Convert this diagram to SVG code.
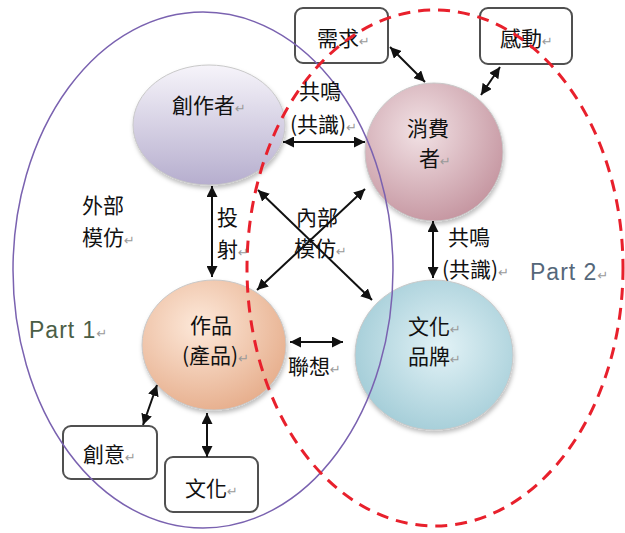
<svg xmlns="http://www.w3.org/2000/svg" width="625" height="533" viewBox="0 0 625 533">
<style>
text{font-family:"Noto Sans CJK TC","Noto Sans CJK SC",sans-serif;font-size:21px;fill:#111}
.rt{font-family:"DejaVu Sans",sans-serif;font-size:13px;fill:#9a9a9a}
.part{font-family:"Liberation Sans",sans-serif;font-size:23px;letter-spacing:1px}
.box{fill:#fff;stroke:#505050;stroke-width:2}
.con{stroke:#111;stroke-width:2;fill:none;marker-start:url(#ah);marker-end:url(#ah)}
.node{stroke:#c8c8c8;stroke-width:1;filter:url(#sh)}
</style>
<defs>
<marker id="ah" viewBox="0 0 10 10" refX="10" refY="5" markerWidth="11" markerHeight="11" markerUnits="userSpaceOnUse" orient="auto-start-reverse"><path d="M0,0 L10,5 L0,10 z" fill="#111"/></marker>
<linearGradient id="gA" x1="0" y1="0" x2="0" y2="1"><stop offset="0" stop-color="#f6f4fa"/><stop offset="1" stop-color="#b6aece"/></linearGradient>
<radialGradient id="gB" cx="0.4" cy="0.35" r="0.7"><stop offset="0" stop-color="#f2e2e5"/><stop offset="1" stop-color="#c4949f"/></radialGradient>
<radialGradient id="gC" cx="0.4" cy="0.35" r="0.7"><stop offset="0" stop-color="#fde9da"/><stop offset="1" stop-color="#e6ad8b"/></radialGradient>
<radialGradient id="gD" cx="0.55" cy="0.45" r="0.7"><stop offset="0" stop-color="#e2f2f6"/><stop offset="1" stop-color="#98c6d2"/></radialGradient>
<filter id="sh" x="-10%" y="-10%" width="125%" height="125%"><feDropShadow dx="1" dy="3" stdDeviation="2" flood-color="#000" flood-opacity="0.25"/></filter>
</defs>
<rect width="625" height="533" fill="#fff"/>

<g id="node-creator"><ellipse class="node" cx="209" cy="125" rx="76" ry="60" fill="url(#gA)"/><text x="172" y="113">創作者<tspan class="rt">↵</tspan></text></g>
<g id="node-consumer"><circle class="node" cx="434" cy="152" r="69" fill="url(#gB)"/><text x="407" y="136">消費</text><text x="419" y="166">者<tspan class="rt">↵</tspan></text></g>
<g id="node-work"><ellipse class="node" cx="214" cy="345" rx="72" ry="65" fill="url(#gC)"/><text x="190" y="333">作品</text><text x="182" y="363">(產品)<tspan class="rt">↵</tspan></text></g>
<g id="node-brand"><ellipse class="node" cx="434" cy="355" rx="79" ry="75" fill="url(#gD)"/><text x="408" y="334">文化<tspan class="rt">↵</tspan></text><text x="408" y="364">品牌<tspan class="rt">↵</tspan></text></g>
<g id="node-need"><rect class="box" x="295" y="8" width="93" height="55" rx="8"/><text x="317" y="46">需求<tspan class="rt">↵</tspan></text></g>
<g id="node-emotion"><rect class="box" x="480" y="8" width="92" height="56" rx="8"/><text x="500" y="46">感動<tspan class="rt">↵</tspan></text></g>
<g id="node-idea"><rect class="box" x="63" y="426" width="94" height="53" rx="8"/><text x="83" y="462">創意<tspan class="rt">↵</tspan></text></g>
<g id="node-culture"><rect class="box" x="165" y="457" width="93" height="55" rx="8"/><text x="185" y="496">文化<tspan class="rt">↵</tspan></text></g>

<g id="regions" fill="none">
<ellipse cx="203" cy="270" rx="190" ry="258" stroke="#7a62b0" stroke-width="1.5"/>
<ellipse cx="435" cy="268" rx="188" ry="258" stroke="#e8202c" stroke-width="3" stroke-dasharray="12 8"/>
</g>

<g id="connectors">
<line class="con" x1="283" y1="142" x2="365" y2="142"/>
<line class="con" x1="212" y1="186" x2="212" y2="277"/>
<line class="con" x1="258" y1="190" x2="372" y2="300"/>
<line class="con" x1="257" y1="290" x2="365" y2="189"/>
<line class="con" x1="433" y1="221" x2="433" y2="278"/>
<line class="con" x1="290" y1="342" x2="343" y2="342"/>
<line class="con" x1="390" y1="47" x2="425" y2="82"/>
<line class="con" x1="500" y1="67" x2="481" y2="95"/>
<line class="con" x1="157" y1="385" x2="143" y2="425"/>
<line class="con" x1="207" y1="413" x2="207" y2="457"/>
</g>

<g id="labels">
<text x="299" y="99">共鳴</text>
<text x="290" y="132">(共識)<tspan class="rt">↵</tspan></text>
<text x="82" y="213">外部</text>
<text x="82" y="245">模仿<tspan class="rt">↵</tspan></text>
<text x="217" y="225">投</text>
<text x="217" y="257">射<tspan class="rt">↵</tspan></text>
<text x="296" y="225">內部</text>
<text x="294" y="256">模仿<tspan class="rt">↵</tspan></text>
<text x="448" y="245">共鳴</text>
<text x="442" y="277">(共識)<tspan class="rt">↵</tspan></text>
<text x="288" y="374">聯想<tspan class="rt">↵</tspan></text>
<text class="part" x="530" y="280" style="fill:#55677a">Part 2<tspan class="rt">↵</tspan></text>
<text class="part" x="29" y="338" style="fill:#4b5e46">Part 1<tspan class="rt">↵</tspan></text>
</g>
</svg>
